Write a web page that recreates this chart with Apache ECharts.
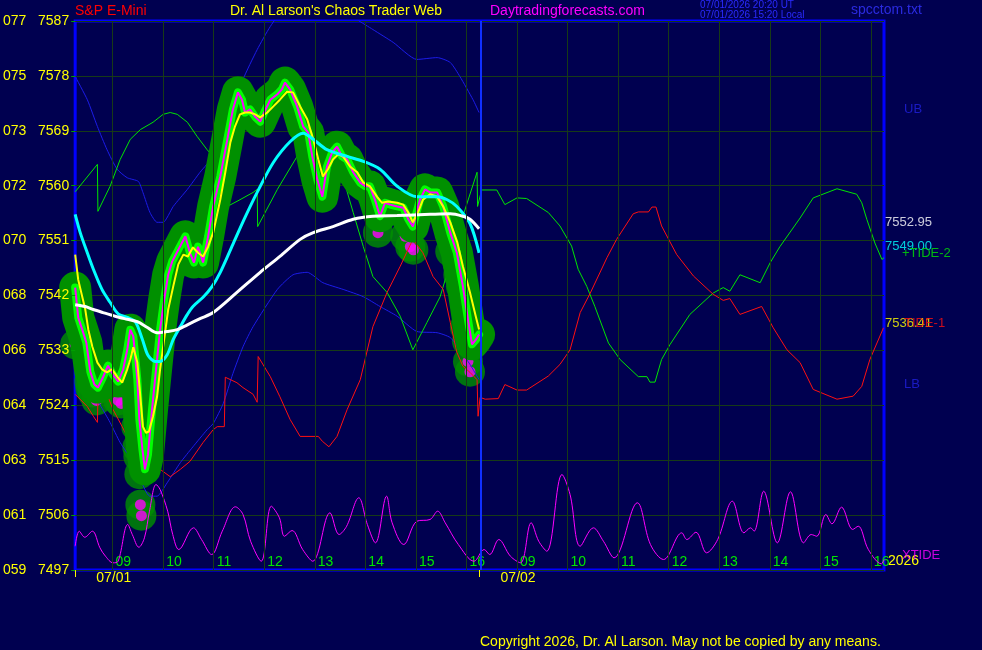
<!DOCTYPE html>
<html>
<head>
<meta charset="utf-8">
<script src="https://cdn.jsdelivr.net/npm/echarts@6/dist/echarts.min.js"></script>
<style>
html, body { margin: 0; padding: 0; background: #000050; }
#chart { width: 982px; height: 650px; }
</style>
</head>
<body>
<div id="chart"></div>
<script>
// time axis: hours since 08:15 of 07/01 (8h per session, two sessions)
const priceLevels = [7497, 7506, 7515, 7524, 7533, 7542, 7551, 7560, 7569, 7578, 7587]
const altLevels = ['059', '061', '063', '064', '066', '068', '070', '072', '073', '075', '077']
const hourTicks = [0.74, 1.74, 2.74, 3.74, 4.74, 5.74, 6.74, 7.74, 8.74, 9.74, 10.74, 11.74, 12.74, 13.74, 14.74, 15.74]
const hourLabels = ['09', '10', '11', '12', '13', '14', '15', '16', '09', '10', '11', '12', '13', '14', '15', '16']
const dayTicks = [0, 8]
const dayLabels = ['07/01', '07/02']
const nowTime = 8.03

// 5-min closes (magenta)
const closes = [[0,7543.3],[0.06,7538.4],[0.14,7536.4],[0.22,7534.3],[0.30,7529.5],[0.38,7527.4],[0.45,7526.9],[0.55,7528.6],[0.65,7530.5],[0.75,7529.0],[0.85,7527.9],[0.95,7529.9],[1.03,7533.1],[1.09,7536.4],[1.15,7535.3],[1.23,7528.2],[1.27,7521.7],[1.33,7516.8],[1.38,7513.5],[1.44,7515.9],[1.52,7523.3],[1.60,7529.9],[1.68,7536.4],[1.76,7541.3],[1.84,7545.4],[1.92,7547.6],[2.04,7549.5],[2.18,7551.7],[2.27,7549.0],[2.35,7547.4],[2.43,7550.0],[2.53,7547.4],[2.63,7551.7],[2.73,7556.6],[2.87,7561.5],[3.01,7567.6],[3.12,7572.5],[3.22,7575.3],[3.30,7574.1],[3.36,7572.0],[3.46,7572.5],[3.56,7571.3],[3.66,7570.5],[3.74,7572.0],[3.86,7574.1],[4.00,7575.0],[4.09,7575.8],[4.15,7576.9],[4.25,7575.8],[4.39,7573.0],[4.51,7569.7],[4.61,7568.7],[4.69,7564.8],[4.79,7561.0],[4.89,7558.2],[4.98,7563.1],[5.08,7565.4],[5.18,7566.4],[5.28,7564.8],[5.38,7564.3],[5.50,7562.2],[5.64,7560.5],[5.74,7559.9],[5.83,7559.9],[5.93,7557.7],[6.03,7555.0],[6.13,7557.2],[6.23,7556.9],[6.37,7556.6],[6.49,7556.4],[6.59,7554.5],[6.68,7553.3],[6.82,7557.7],[6.92,7559.4],[7.02,7558.9],[7.16,7558.9],[7.28,7556.6],[7.42,7552.3],[7.55,7549.0],[7.67,7543.5],[7.77,7538.1],[7.85,7534.0],[7.93,7534.8],[7.99,7535.6]]

// magenta flags at bar lows
const lowDots = [[0,7534.0],[0.22,7533.0],[0.28,7527.9],[0.30,7526.8],[0.34,7526.1],[0.42,7524.8],[0.85,7524.8],[0.91,7524.3],[1.21,7520.5],[1.23,7517.1],[1.25,7515.6],[1.27,7512.7],[1.29,7507.7],[1.31,7505.9],[5.99,7552.3],[6.53,7551.7],[6.63,7550.0],[6.69,7549.5],[7.42,7549.2],[7.56,7547.4],[7.58,7545.4],[7.63,7543.5],[7.71,7536.8],[7.75,7534.5],[7.77,7531.2],[7.81,7529.5]]

const fastMA = [[0,7548.7],[0.06,7544.6],[0.14,7541.8],[0.20,7539.7],[0.26,7536.4],[0.34,7533.6],[0.44,7531.0],[0.53,7529.9],[0.63,7529.4],[0.73,7529.9],[0.83,7528.7],[0.93,7527.7],[1.03,7529.9],[1.09,7531.5],[1.15,7533.5],[1.23,7531.0],[1.29,7525.4],[1.34,7520.5],[1.40,7519.5],[1.46,7519.7],[1.54,7522.2],[1.62,7525.4],[1.68,7529.9],[1.76,7534.8],[1.84,7539.7],[1.94,7543.5],[2.04,7547.1],[2.14,7548.7],[2.23,7548.4],[2.33,7549.9],[2.43,7549.0],[2.53,7548.4],[2.63,7550.0],[2.73,7552.3],[2.87,7557.7],[2.97,7562.2],[3.07,7567.1],[3.16,7569.7],[3.26,7571.7],[3.36,7572.0],[3.46,7572.0],[3.56,7571.7],[3.66,7571.2],[3.80,7572.0],[3.92,7573.0],[4.05,7574.1],[4.19,7575.4],[4.31,7575.3],[4.45,7573.0],[4.59,7570.9],[4.71,7567.6],[4.81,7564.3],[4.90,7561.5],[5.00,7562.7],[5.10,7564.3],[5.20,7565.1],[5.30,7564.8],[5.44,7563.1],[5.58,7562.2],[5.70,7560.5],[5.83,7559.9],[5.97,7558.2],[6.07,7557.2],[6.19,7557.4],[6.37,7557.2],[6.49,7556.9],[6.59,7555.6],[6.68,7554.0],[6.78,7555.6],[6.88,7557.7],[7.02,7558.6],[7.16,7558.2],[7.28,7556.6],[7.42,7554.0],[7.56,7550.7],[7.67,7546.8],[7.81,7542.5],[7.93,7538.4],[7.99,7536.41]]

const midMA = [[0,7555.3],[0.10,7552.3],[0.24,7549.0],[0.36,7546.3],[0.53,7543.0],[0.69,7540.9],[0.85,7539.0],[1.03,7538.4],[1.19,7537.7],[1.33,7534.8],[1.44,7532.2],[1.58,7531.2],[1.68,7531.2],[1.82,7532.3],[1.94,7534.8],[2.08,7536.9],[2.22,7538.9],[2.33,7540.2],[2.53,7541.7],[2.71,7543.5],[2.87,7545.8],[3.12,7550.4],[3.36,7554.8],[3.60,7558.9],[3.92,7563.8],[4.25,7567.2],[4.51,7568.6],[4.71,7567.6],[4.98,7565.9],[5.38,7564.8],[5.70,7564.0],[6.03,7562.7],[6.37,7559.9],[6.76,7558.2],[7.16,7558.2],[7.36,7557.7],[7.55,7556.6],[7.81,7553.8],[7.99,7549.00]]

const slowMA = [[0,7540.5],[0.20,7540.2],[0.36,7539.7],[0.55,7539.2],[0.79,7538.6],[1.03,7538.1],[1.23,7537.7],[1.42,7536.8],[1.62,7535.9],[1.82,7536.1],[2.02,7536.4],[2.22,7537.2],[2.47,7538.2],[2.73,7539.2],[3.20,7542.5],[3.66,7545.8],[4.05,7548.4],[4.45,7551.2],[4.71,7552.3],[5.10,7553.3],[5.50,7554.5],[5.89,7555.0],[6.37,7555.1],[7.02,7555.3],[7.42,7555.4],[7.67,7555.0],[7.81,7554.5],[7.99,7552.95]]

const upperBand = [[0,7577.9],[0.24,7574.1],[0.44,7569.7],[0.63,7565.9],[0.83,7562.7],[1.03,7561.3],[1.25,7560.7],[1.34,7558.9],[1.48,7555.6],[1.62,7554.0],[1.74,7554.0],[1.94,7556.6],[2.22,7559.4],[2.47,7562.2],[2.73,7564.8],[3.01,7569.7],[3.32,7577.4],[3.60,7582.3],[3.86,7586.1],[4.15,7589.2],[4.65,7590.5],[5.14,7589.7],[5.58,7587.2],[5.89,7585.6],[6.29,7583.5],[6.76,7580.7],[7.16,7581.0],[7.42,7580.2],[7.61,7577.9],[7.87,7574.1],[7.99,7572.0]]

const lowerBand = [[0,7531.2],[0.30,7526.6],[0.49,7524.1],[0.69,7521.2],[0.89,7517.9],[1.15,7514.6],[1.48,7509.1],[1.62,7509.1],[1.82,7511.3],[2.08,7514.6],[2.33,7517.2],[2.61,7520.0],[2.73,7521.0],[2.93,7524.3],[3.12,7529.2],[3.32,7533.6],[3.52,7536.9],[4.00,7543.0],[4.31,7545.4],[4.59,7545.8],[4.90,7544.1],[5.30,7543.0],[5.70,7541.8],[6.03,7540.2],[6.37,7538.6],[6.76,7536.1],[7.16,7535.9],[7.42,7535.1],[7.61,7533.1],[7.81,7530.7],[7.99,7528.2]]

const tide2 = [[0,7559.0],[0.44,7563.5],[0.45,7555.8],[0.69,7559.9],[0.89,7564.3],[1.09,7567.6],[1.29,7569.2],[1.54,7570.4],[1.74,7571.7],[1.88,7572.0],[2.02,7571.7],[2.22,7570.4],[2.41,7568.1],[2.61,7565.9],[2.73,7564.8],[3.01,7556.6],[3.26,7557.7],[3.52,7558.9],[3.60,7559.4],[3.61,7553.3],[4.00,7559.4],[4.39,7564.8],[4.45,7565.4],[4.59,7565.6],[4.98,7565.9],[5.30,7561.3],[5.50,7555.6],[5.70,7550.0],[5.89,7545.1],[6.17,7542.5],[6.43,7538.6],[6.68,7533.1],[6.96,7537.6],[7.22,7541.8],[7.48,7549.0],[7.67,7555.0],[7.95,7562.2],[7.96,7556.6],[8.04,7559.3],[8.34,7559.3],[8.50,7556.9],[8.74,7558.0],[8.93,7557.9],[9.36,7555.6],[9.59,7553.4],[9.82,7550.1],[9.95,7546.3],[10.12,7543.5],[10.28,7540.2],[10.55,7534.2],[10.78,7531.5],[11.14,7528.7],[11.31,7528.7],[11.37,7527.8],[11.47,7527.8],[11.60,7531.5],[11.77,7534.0],[12.16,7538.9],[12.62,7542.4],[12.82,7543.3],[12.95,7542.7],[13.15,7545.4],[13.55,7544.1],[13.75,7547.4],[13.94,7550.0],[14.34,7554.7],[14.60,7558.0],[15.07,7559.5],[15.46,7558.6],[15.56,7557.2],[15.66,7554.5],[15.82,7550.6],[15.96,7547.9],[16.0,7548.2]]

const tide1 = [[0,7525.8],[0.24,7523.8],[0.36,7522.2],[0.44,7521.2],[0.46,7528.6],[0.59,7526.6],[0.75,7523.3],[0.93,7520.5],[1.09,7517.9],[1.29,7515.6],[1.48,7514.6],[1.68,7513.5],[1.88,7512.3],[2.08,7513.5],[2.27,7514.8],[2.53,7517.9],[2.73,7520.0],[2.81,7520.5],[2.95,7520.5],[2.97,7528.6],[3.20,7527.7],[3.32,7526.9],[3.52,7525.8],[3.60,7524.5],[3.62,7532.0],[3.86,7528.7],[4.05,7525.4],[4.25,7521.7],[4.45,7518.9],[4.81,7518.9],[4.89,7518.1],[5.02,7517.2],[5.18,7518.9],[5.38,7523.3],[5.64,7528.2],[5.89,7536.9],[6.17,7542.5],[6.43,7546.8],[6.68,7551.2],[6.88,7549.0],[7.08,7545.1],[7.28,7543.0],[7.42,7537.6],[7.55,7532.7],[7.67,7530.4],[7.81,7529.4],[7.95,7528.2],[7.97,7522.2],[8.01,7525.3],[8.11,7525.0],[8.37,7525.1],[8.50,7527.4],[8.74,7526.5],[8.93,7526.5],[9.36,7528.8],[9.59,7530.7],[9.79,7533.1],[9.99,7539.2],[10.19,7542.4],[10.52,7548.2],[10.71,7551.2],[11.04,7555.4],[11.14,7555.7],[11.34,7555.7],[11.41,7556.5],[11.49,7556.5],[11.60,7553.4],[11.90,7548.7],[12.23,7545.2],[12.62,7542.2],[12.82,7541.2],[12.95,7541.5],[13.15,7538.9],[13.58,7540.2],[13.81,7536.7],[14.08,7533.1],[14.34,7531.0],[14.60,7526.6],[15.07,7525.0],[15.39,7525.5],[15.56,7527.1],[15.72,7531.5],[15.99,7536.7]]

// XTIDE oscillator, 0..100 scale of its own
const xtide = [[0,4.33],[0.08,7.07],[0.19,5.97],[0.34,7.07],[0.49,4.04],[0.60,2.51],[0.75,1.31],[0.85,1.60],[1.04,8.29],[1.13,6.46],[1.26,4.15],[1.37,5.86],[1.47,10.71],[1.60,15.57],[1.68,14.66],[1.83,10.71],[1.93,6.46],[2.05,3.73],[2.34,7.68],[2.50,5.55],[2.70,2.82],[2.91,7.07],[3.17,11.51],[3.32,10.11],[3.47,5.24],[3.68,1.60],[3.88,11.62],[4.04,9.51],[4.14,6.15],[4.29,7.19],[4.50,3.73],[4.70,1.60],[5.04,10.42],[5.22,6.46],[5.37,7.98],[5.61,13.15],[5.78,8.29],[5.94,4.95],[6.16,13.44],[6.27,8.60],[6.50,4.64],[6.76,8.89],[7.02,9.20],[7.17,10.71],[7.32,8.60],[7.58,4.64],[7.89,1.60],[8.09,3.73],[8.20,2.82],[8.38,5.55],[8.61,2.51],[8.81,1.31],[9.02,8.60],[9.17,5.24],[9.33,3.42],[9.63,17.39],[9.79,13.75],[9.99,4.33],[10.25,7.68],[10.45,5.24],[10.66,2.22],[11.12,12.24],[11.38,4.64],[11.64,1.91],[12.00,6.77],[12.10,5.55],[12.28,6.88],[12.49,3.13],[12.71,5.55],[13.00,12.53],[13.23,6.77],[13.36,7.68],[13.43,7.07],[13.62,14.35],[13.89,4.95],[14.15,14.24],[14.41,4.95],[14.56,6.46],[14.67,6.15],[14.85,10.11],[14.97,8.41],[15.16,11.44],[15.38,7.38],[15.49,7.98],[15.69,3.73],[15.95,1.13],[16.0,1.91]]

const last = arr => arr[arr.length - 1]

const chart = echarts.init(document.getElementById('chart'))
const font = 'Liberation Sans, Arial, sans-serif'

const rightLabels = [
    { value: [16, last(slowMA)[1]], label: { formatter: last(slowMA)[1].toFixed(2), color: '#ffffff', offset: [0, -6] } },
    { value: [16, last(midMA)[1]], label: { formatter: last(midMA)[1].toFixed(2), color: '#00ffff', offset: [0, -6] } },
    { value: [16, last(fastMA)[1]], label: { formatter: last(fastMA)[1].toFixed(2), color: '#ffff00', offset: [0, -6] } },
    { value: [16, last(tide2)[1]], label: { formatter: '+TIDE-2', color: '#00e600', offset: [17, -4] } },
    { value: [16, last(tide1)[1]], label: { formatter: 'TIDE-1', color: '#ff1010', offset: [19, -4] } },
    { value: [16, last(upperBand)[1]], label: { formatter: 'UB', color: '#2020e0', offset: [19, -3] } },
    { value: [16, last(lowerBand)[1]], label: { formatter: 'LB', color: '#2020e0', offset: [19, 5] } }
]

const thin = (color, width) => ({ color, width })

const option = {
    backgroundColor: '#000050',
    animation: false,
    grid: {
        left: 75, right: 98, top: 21, bottom: 80,
        show: true, borderColor: '#0000ff', borderWidth: 3, backgroundColor: 'transparent'
    },
    xAxis: [{
        type: 'value', min: 0, max: 16,
        axisLine: { show: false },
        axisTick: { show: false },
        splitLine: { show: false },
        axisLabel: {
            inside: true, margin: 1, customValues: hourTicks,
            color: '#00e600', fontSize: 14, fontFamily: font, align: 'left', padding: [0, 0, 0, 3],
            formatter: v => hourLabels[hourTicks.findIndex(t => Math.abs(t - v) < 0.01)]
        }
    }, {
        type: 'value', min: 0, max: 16, position: 'bottom',
        axisLine: { show: false },
        splitLine: { show: false },
        axisTick: { show: true, customValues: dayTicks, length: 7, lineStyle: { color: '#ffff00', width: 1 } },
        axisLabel: {
            customValues: dayTicks, margin: 1,
            color: '#ffff00', fontSize: 14, fontFamily: font, align: 'left', padding: [0, 0, 0, 21],
            formatter: v => dayLabels[dayTicks.indexOf(v)]
        }
    }],
    yAxis: [{
        type: 'value', min: 7497, max: 7587, interval: 9,
        axisLine: { show: false },
        axisTick: { show: false },
        axisLabel: { show: false },
        splitLine: { lineStyle: { color: '#173a17', width: 1 } }
    }, {
        type: 'value', min: 0, max: 100, show: false
    }, {
        // label layer drawn above the price band
        type: 'value', min: 7497, max: 7587, interval: 9, position: 'left', z: 10,
        axisLine: { show: false },
        splitLine: { show: false },
        axisTick: { show: true, length: 4, lineStyle: { color: '#00a000' } },
        axisLabel: {
            color: '#ffff00', fontSize: 14, fontFamily: font, margin: 6, padding: [0, 0, 9, 0],
            formatter: v => altLevels[priceLevels.indexOf(v)] + '   ' + v
        }
    }],
    graphic: [
        { type: 'text', left: 75, top: 4, style: { text: 'S&P E-Mini', fill: '#ff0000', font: '14px ' + font } },
        { type: 'text', left: 230, top: 4, style: { text: "Dr. Al Larson's Chaos Trader Web", fill: '#ffff00', font: '14px ' + font } },
        { type: 'text', left: 490, top: 4, style: { text: 'Daytradingforecasts.com', fill: '#ff00ff', font: '14px ' + font } },
        { type: 'text', left: 700, top: 0, style: { text: '07/01/2026 20:20 UT', fill: '#2a2aff', font: '10px ' + font } },
        { type: 'text', left: 700, top: 10, style: { text: '07/01/2026 15:20 Local', fill: '#2a2aff', font: '10px ' + font } },
        { type: 'text', left: 851, top: 3, style: { text: 'spcctom.txt', fill: '#2a2ae0', font: '14px ' + font } },
        { type: 'text', left: 888, top: 554, style: { text: '2026', fill: '#ffff00', font: '14px ' + font } },
        { type: 'text', left: 480, top: 635, style: { text: 'Copyright 2026, Dr. Al Larson. May not be copied by any means.', fill: '#ffff00', font: '14px ' + font } }
    ],
    series: [
        {
            name: 'hourGrid', type: 'line', data: [[0, 7497]], symbol: 'none', silent: true,
            lineStyle: { width: 0 },
            markLine: {
                silent: true, symbol: 'none', label: { show: false },
                data: hourTicks.map(t => ({ xAxis: t, lineStyle: { color: '#173a17', width: 1, type: 'solid' } }))
                    .concat([{ xAxis: nowTime, lineStyle: { color: '#1030ff', width: 2, type: 'solid' } }])
            }
        },
        { name: 'UB', type: 'line', data: upperBand, symbol: 'none', smooth: 0.2, lineStyle: thin('#1c1ce8', 1) },
        { name: 'LB', type: 'line', data: lowerBand, symbol: 'none', smooth: 0.2, lineStyle: thin('#1c1ce8', 1) },
        { name: '+TIDE-2', type: 'line', data: tide2, symbol: 'none', lineStyle: thin('#00e600', 1) },
        { name: 'TIDE-1', type: 'line', data: tide1, symbol: 'none', lineStyle: thin('#ff1010', 1) },
        { name: 'XTIDE', type: 'line', yAxisIndex: 1, data: xtide, symbol: 'none', smooth: 0.35, lineStyle: thin('#ff00ff', 1) },
        {
            name: 'band', type: 'line', data: closes, symbol: 'none',
            lineStyle: { color: '#009000', width: 32, cap: 'round', join: 'round' }
        },
        {
            name: 'bandDots', type: 'scatter', data: lowDots, symbolSize: 30,
            itemStyle: { color: '#009000' }
        },
        {
            name: 'range', type: 'line', data: closes, symbol: 'none',
            lineStyle: { color: '#00ff00', width: 8, cap: 'round', join: 'round' }
        },
        { name: 'close', type: 'line', data: closes, symbol: 'none', lineStyle: thin('#ff00ff', 2) },
        { name: 'flags', type: 'scatter', data: lowDots, symbolSize: 11, itemStyle: { color: '#ff00ff' } },
        { name: 'fast', type: 'line', data: fastMA, symbol: 'none', lineStyle: thin('#ffff00', 2) },
        { name: 'mid', type: 'line', data: midMA, symbol: 'none', smooth: 0.3, lineStyle: thin('#00ffff', 3) },
        { name: 'slow', type: 'line', data: slowMA, symbol: 'none', smooth: 0.3, lineStyle: thin('#ffffff', 3) },
        {
            name: 'rightLabels', type: 'scatter', data: rightLabels, symbolSize: 0, clip: false, silent: true,
            label: { show: true, position: 'right', distance: 1, fontSize: 13, fontFamily: font }
        },
        {
            name: 'xtideLabel', type: 'scatter', yAxisIndex: 1, symbolSize: 0, clip: false, silent: true,
            data: [{ value: last(xtide), label: { formatter: 'XTIDE', color: '#ff00ff', offset: [17, -4] } }],
            label: { show: true, position: 'right', distance: 1, fontSize: 13, fontFamily: font }
        }
    ]
}

chart.setOption(option)
</script>
</body>
</html>
